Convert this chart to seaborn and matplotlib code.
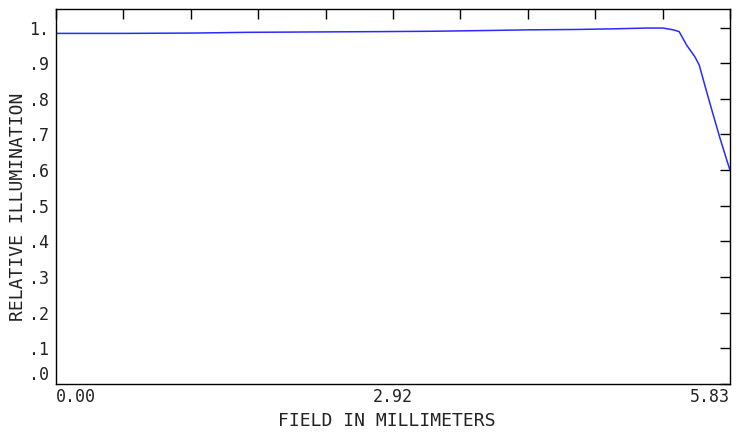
import matplotlib
matplotlib.use("Agg")
import matplotlib.pyplot as plt
import seaborn as sns
import pandas as pd
import numpy as np

# Data
field_mm = [0.00, 0.60, 1.20, 1.66, 2.20, 2.80, 3.25, 3.70, 4.10, 4.50,
            4.85, 5.10, 5.25, 5.34, 5.39, 5.455, 5.527, 5.564, 5.628, 5.685, 5.743, 5.806, 5.83]
rel_illum = [0.984, 0.984, 0.985, 0.987, 0.988, 0.989, 0.990, 0.992, 0.994, 0.995,
             0.997, 0.999, 0.999, 0.994, 0.989, 0.951, 0.918, 0.895, 0.820, 0.755, 0.690, 0.624, 0.600]
x_max = 5.83
y_ticks = [0.0, 0.1, 0.2, 0.3, 0.4, 0.5, 0.6, 0.7, 0.8, 0.9, 1.0]
y_ticklabels = [".0", ".1", ".2", ".3", ".4", ".5", ".6", ".7", ".8", ".9", "1."]
x_ticklabels = ["0.00", "2.92", "5.83"]

sns.set_style("white")
plt.rcParams['font.family'] = ['DejaVu Sans Mono']

df = pd.DataFrame({"field": field_mm, "illum": rel_illum})

W, H = 740, 432
fig = plt.figure(figsize=(7.40, 4.32), dpi=100)
L, R, B, T = 56, 730, 383.7, 9
ax = fig.add_axes([L/W, 1 - B/H, (R - L)/W, (B - T)/H])

sns.lineplot(data=df, x="field", y="illum", ax=ax, color="#2a2aff", linewidth=1.1)

ax.set_xlim(0, x_max)
ax.set_ylim(0, (B - T) / 356)

xt = np.linspace(0, x_max, 11)
ax.set_xticks(xt)
ax.set_xticklabels([x_ticklabels[0], "", "", "", "", x_ticklabels[1], "", "", "", "", x_ticklabels[2]])
ax.set_yticks(y_ticks)
ax.set_yticklabels(y_ticklabels)

ax.tick_params(axis="both", direction="in", length=7, width=1, color="black",
               top=True, right=True, labelsize=12, labelcolor="#222222", pad=5)
ax.tick_params(axis="x", pad=3)

xl = ax.get_xticklabels()
xl[0].set_horizontalalignment("left")
xl[-1].set_horizontalalignment("right")
yl = ax.get_yticklabels()
yl[0].set_verticalalignment("bottom")

for s in ax.spines.values():
    s.set_color("black")
    s.set_linewidth(1)

ax.set_xlabel("FIELD IN MILLIMETERS", fontsize=13, color="#222222")
ax.set_ylabel("RELATIVE ILLUMINATION", fontsize=13, color="#222222")
# place labels to match reference pixel positions
ax.xaxis.set_label_coords((387 - L) / (R - L), (B - 421) / (B - T), transform=ax.transAxes)
ax.xaxis.label.set_verticalalignment("center")
ax.yaxis.set_label_coords((18 - L) / (R - L), (B - 207) / (B - T), transform=ax.transAxes)
ax.yaxis.label.set_verticalalignment("center")

fig.savefig("out.png", dpi=100)
